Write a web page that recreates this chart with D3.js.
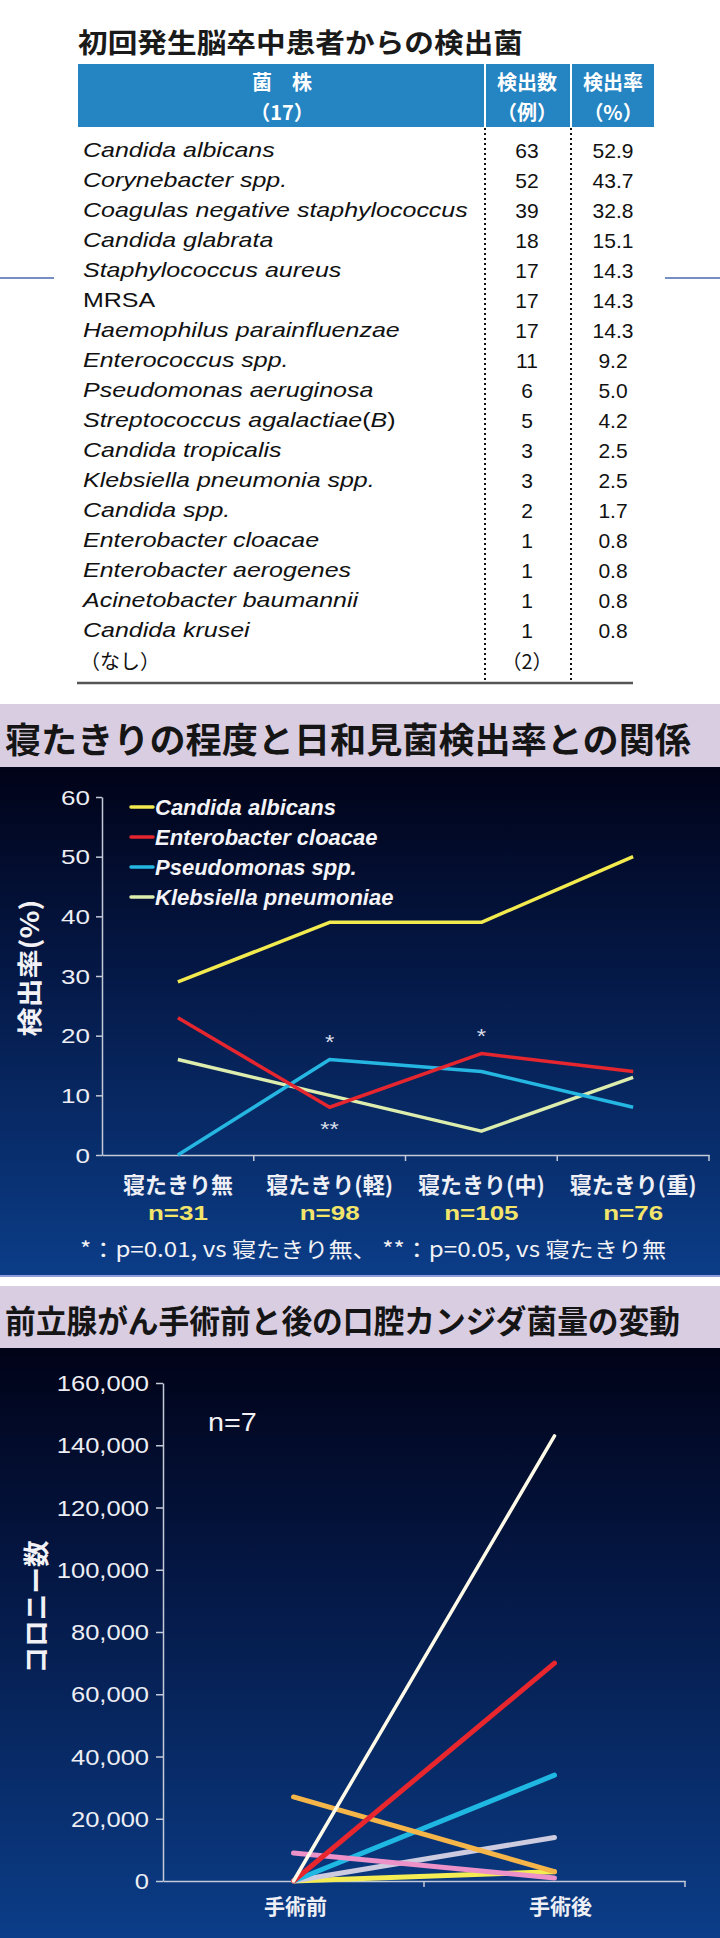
<!DOCTYPE html>
<html>
<head>
<meta charset="utf-8">
<script src="https://cdn.jsdelivr.net/npm/d3@7"></script>
<style>
  html, body { margin: 0; padding: 0; background: #fff; }
  svg { display: block; }
</style>
</head>
<body>
<div id="app"></div>
<script>
// ---- データ ----
const tableTitle = "初回発生脳卒中患者からの検出菌";
const strains = [
  "Candida albicans", "Corynebacter spp.", "Coagulas negative staphylococcus",
  "Candida glabrata", "Staphylococcus aureus", "MRSA", "Haemophilus parainfluenzae",
  "Enterococcus spp.", "Pseudomonas aeruginosa", "Streptococcus agalactiae", "Candida tropicalis",
  "Klebsiella pneumonia spp.", "Candida spp.", "Enterobacter cloacae",
  "Enterobacter aerogenes", "Acinetobacter baumannii", "Candida krusei"
];
const counts = [63, 52, 39, 18, 17, 17, 17, 11, 6, 5, 3, 3, 2, 1, 1, 1, 1];
const rates = [52.9, 43.7, 32.8, 15.1, 14.3, 14.3, 14.3, 9.2, 5.0, 4.2, 2.5, 2.5, 1.7, 0.8, 0.8, 0.8, 0.8];
const noneLabel = "（なし）";
const noneCount = "（2）";

const chart2Title = "寝たきりの程度と日和見菌検出率との関係";
const levels = ["寝たきり無", "寝たきり(軽)", "寝たきり(中)", "寝たきり(重)"];
const levelN = ["n=31", "n=98", "n=105", "n=76"];
const seriesNames = ["Candida albicans", "Enterobacter cloacae", "Pseudomonas spp.", "Klebsiella pneumoniae"];
const candidaRate = [29, 39, 39, 50];
const enterobacterRate = [23, 8, 17, 14];
const pseudomonasRate = [0, 16, 14, 8];
const klebsiellaRate = [16, 10, 4, 13];
const seriesColors = ["#f2ea4e", "#e5262f", "#25b6e2", "#dcedae"];
const rateTicks = [0, 10, 20, 30, 40, 50, 60];
const marks = [ // 有意差マーク
  { level: "寝たきり(軽)", value: 16, text: "*", above: true },
  { level: "寝たきり(軽)", value: 8, text: "**", above: false },
  { level: "寝たきり(中)", value: 17, text: "*", above: true }
];
const footnote = "*：p=0.01, vs 寝たきり無、 **：p=0.05, vs 寝たきり無";

const chart3Title = "前立腺がん手術前と後の口腔カンジダ菌量の変動";
const phases = ["手術前", "手術後"];
const colonyBefore = [0, 0, 0, 27000, 9000, 0, 0];
const colonyAfter = [3000, 14000, 34000, 3000, 1000, 70000, 143000];
const colonyColors = ["#f3ec52", "#cdcbe0", "#1fb8e2", "#f5b548", "#ec92c8", "#e8262e", "#fffbe8"];
const colonyTicks = [0, 20000, 40000, 60000, 80000, 100000, 120000, 140000, 160000];

// ---- 描画 ----
const W = 720, H = 1938;
const CJK = "'Noto Sans CJK JP', sans-serif";
const LAT = "'Liberation Sans', Arial, sans-serif";

const svg = d3.select("#app").append("svg").attr("width", W).attr("height", H);
const defs = svg.append("defs");

// 横に伸ばしたテキスト
function label(g, x, y, s, o = {}) {
  return g.append("text")
    .attr("transform", `translate(${x},${y}) scale(${o.sx || 1},1)`)
    .attr("dominant-baseline", "central")
    .attr("text-anchor", o.anchor || "start")
    .style("font-family", o.font || LAT)
    .style("font-size", (o.size || 20) + "px")
    .style("font-weight", o.weight || "normal")
    .style("font-style", o.italic ? "italic" : "normal")
    .style("fill", o.fill || "#111")
    .text(s);
}

// ========== 表 ==========
const t = svg.append("g");
t.append("text")
  .attr("x", 78).attr("y", 41)
  .attr("dominant-baseline", "central")
  .attr("textLength", 445).attr("lengthAdjust", "spacingAndGlyphs")
  .style("font-family", CJK).style("font-size", "27px").style("font-weight", 600)
  .style("fill", "#1a1a1a")
  .text(tableTitle);

// 両端の飾り線
t.append("line").attr("x1", 0).attr("x2", 54).attr("y1", 278).attr("y2", 278)
  .attr("stroke", "#4a68b0").attr("stroke-width", 1.5);
t.append("line").attr("x1", 665).attr("x2", 720).attr("y1", 278).attr("y2", 278)
  .attr("stroke", "#4a68b0").attr("stroke-width", 1.5);

const colName = 83, colDiv1 = 485, colDiv2 = 571, colCount = 527, colRate = 613;

// ヘッダー
t.append("rect").attr("x", 78).attr("y", 64).attr("width", 576).attr("height", 63)
  .attr("fill", "#2584c2");
[colDiv1, colDiv2].forEach(x => {
  t.append("line").attr("x1", x).attr("x2", x).attr("y1", 64).attr("y2", 127)
    .attr("stroke", "#fff").attr("stroke-width", 2);
});
const head = [
  { x: 282, a: "菌　株", b: "（17）" },
  { x: colCount, a: "検出数", b: "（例）" },
  { x: colRate, a: "検出率", b: "（%）" }
];
head.forEach(h => {
  label(t, h.x, 81, h.a, { anchor: "middle", font: CJK, size: 20, weight: "bold", fill: "#fff" });
  label(t, h.x, 111, h.b, { anchor: "middle", font: CJK, size: 20, weight: "bold", fill: "#fff" });
});

// 行
const rowY = d3.scalePoint().domain(d3.range(strains.length + 1)).range([150, 660]);

strains.forEach((name, i) => {
  const y = rowY(i);
  const txt = t.append("text")
    .attr("transform", `translate(${colName},${y}) scale(1.19,1)`)
    .attr("dominant-baseline", "central")
    .style("font-family", LAT).style("font-size", "21px").style("fill", "#111")
    .style("font-style", name === "MRSA" ? "normal" : "italic");
  txt.append("tspan").text(name);
  if (name === "Streptococcus agalactiae") {
    txt.append("tspan").style("font-style", "normal").text("(");
    txt.append("tspan").style("font-style", "italic").text("B");
    txt.append("tspan").style("font-style", "normal").text(")");
  }
  label(t, colCount, y, counts[i], { anchor: "middle", size: 21 });
  label(t, colRate, y, rates[i].toFixed(1), { anchor: "middle", size: 21 });
});
const last = rowY(strains.length);
label(t, 80, last, noneLabel, { font: CJK, size: 20 });
label(t, colCount, last, noneCount, { anchor: "middle", font: CJK, size: 20 });

// 点線と下線
[colDiv1, colDiv2].forEach(x => {
  t.append("line").attr("x1", x).attr("x2", x).attr("y1", 128).attr("y2", 683)
    .attr("stroke", "#111").attr("stroke-width", 2).attr("stroke-dasharray", "2,3");
});
t.append("line").attr("x1", 77).attr("x2", 633).attr("y1", 683).attr("y2", 683)
  .attr("stroke", "#555").attr("stroke-width", 2.5);

// ========== パネル共通 ==========
function panel(id, top, bandH, bottom, title, titleLen, titleSize) {
  const grad = defs.append("linearGradient").attr("id", id)
    .attr("x1", 0).attr("y1", 0).attr("x2", 0).attr("y2", 1);
  grad.append("stop").attr("offset", "0%").attr("stop-color", "#010318");
  grad.append("stop").attr("offset", "35%").attr("stop-color", "#041540");
  grad.append("stop").attr("offset", "100%").attr("stop-color", "#0b3d88");
  svg.append("rect").attr("x", 0).attr("y", top).attr("width", W).attr("height", bandH)
    .attr("fill", "#d9cde2");
  svg.append("text")
    .attr("x", 5).attr("y", top + bandH / 2 + 2)
    .attr("dominant-baseline", "central")
    .attr("textLength", titleLen).attr("lengthAdjust", "spacingAndGlyphs")
    .style("font-family", CJK).style("font-size", titleSize + "px").style("font-weight", "bold")
    .style("fill", "#151515")
    .text(title);
  svg.append("rect").attr("x", 0).attr("y", top + bandH).attr("width", W)
    .attr("height", bottom - top - bandH).attr("fill", `url(#${id})`);
  return svg.append("g");
}

// ========== グラフ2 ==========
const g2 = panel("bg2", 704, 63, 1276, chart2Title, 686, 35);
svg.append("line").attr("x1", 0).attr("x2", W).attr("y1", 1276).attr("y2", 1276)
  .attr("stroke", "#8d9bd8").attr("stroke-width", 2);

const x2 = d3.scaleBand().domain(levels).range([102, 709]);
const y2 = d3.scaleLinear().domain([0, 60]).range([1155, 797]);
const cx2 = d => x2(d) + x2.bandwidth() / 2;

const yAx2 = g2.append("g").attr("transform", "translate(102,0)")
  .call(d3.axisLeft(y2).tickValues(rateTicks).tickSize(6).tickSizeOuter(0).tickPadding(6));
yAx2.select(".domain").attr("stroke", "#c4cad8").attr("stroke-width", 1.5);
yAx2.selectAll(".tick line").attr("stroke", "#c4cad8").attr("stroke-width", 1.5);
yAx2.selectAll("text")
  .attr("x", -12 / 1.3).attr("dy", "0.35em").attr("transform", "scale(1.3,1)")
  .style("font-family", LAT).style("font-size", "20px").style("fill", "#eceef4");

const xAx2 = g2.append("g").attr("transform", "translate(0,1155)")
  .call(d3.axisBottom(x2).tickSize(0).tickFormat(""));
xAx2.select(".domain").attr("stroke", "#c4cad8").attr("stroke-width", 1.5);
levels.forEach(l => {
  const bx = x2(l) + x2.bandwidth();
  g2.append("line").attr("x1", bx).attr("x2", bx).attr("y1", 1155).attr("y2", 1161)
    .attr("stroke", "#c4cad8").attr("stroke-width", 1.5);
});
levels.forEach((l, i) => {
  label(g2, cx2(l), 1183, l, { anchor: "middle", font: CJK, size: 22, weight: "bold", fill: "#eef0f6" });
  label(g2, cx2(l), 1213, levelN[i], { anchor: "middle", size: 20, weight: "bold", fill: "#f2e56a", sx: 1.3 });
});

// 軸タイトル
g2.append("text")
  .attr("transform", "translate(28,968) rotate(-90)")
  .attr("text-anchor", "middle").attr("dominant-baseline", "central")
  .attr("textLength", 137).attr("lengthAdjust", "spacingAndGlyphs")
  .style("font-family", CJK).style("font-size", "25px").style("font-weight", "bold")
  .style("fill", "#f2f2f6")
  .text("検出率(%)");

// 折れ線
const rateSeries = [candidaRate, enterobacterRate, pseudomonasRate, klebsiellaRate];
const line2 = d3.line().x((d, i) => cx2(levels[i])).y(d => y2(d));
[3, 2, 1, 0].forEach(k => {
  g2.append("path").datum(rateSeries[k]).attr("d", line2)
    .attr("fill", "none").attr("stroke", seriesColors[k]).attr("stroke-width", 3.5)
    .attr("stroke-linejoin", "round");
});

// 凡例
const legY = d3.scalePoint().domain(seriesNames).range([807, 897]);
seriesNames.forEach((n, k) => {
  g2.append("line").attr("x1", 131).attr("x2", 153).attr("y1", legY(n)).attr("y2", legY(n))
    .attr("stroke", seriesColors[k]).attr("stroke-width", 3.5).attr("stroke-linecap", "round");
  label(g2, 155, legY(n), n, { size: 22, weight: "bold", italic: true, fill: "#f4f4f8" });
});

// 有意差
marks.forEach(m => {
  label(g2, cx2(m.level), y2(m.value) + (m.above ? -17 : 22), m.text,
    { anchor: "middle", size: 20, fill: "#d8dce6", sx: 1.2 });
});

g2.append("text")
  .attr("x", 80).attr("y", 1248).attr("dominant-baseline", "central")
  .attr("textLength", 586).attr("lengthAdjust", "spacingAndGlyphs")
  .style("font-family", CJK).style("font-size", "21px").style("fill", "#f2f2f6")
  .text(footnote);

// ========== グラフ3 ==========
const g3 = panel("bg3", 1286, 62, H, chart3Title, 675, 32);

const x3 = d3.scaleBand().domain(phases).range([163, 685]);
const y3 = d3.scaleLinear().domain([0, 160000]).range([1881, 1383]);
const cx3 = d => x3(d) + x3.bandwidth() / 2;

const yAx3 = g3.append("g").attr("transform", "translate(163,0)")
  .call(d3.axisLeft(y3).tickValues(colonyTicks).tickFormat(d3.format(",")).tickSize(7).tickSizeOuter(0));
yAx3.select(".domain").attr("stroke", "#c4cad8").attr("stroke-width", 1.5);
yAx3.selectAll(".tick line").attr("stroke", "#c4cad8").attr("stroke-width", 1.5);
yAx3.selectAll("text")
  .attr("x", -14 / 1.16).attr("dy", "0.35em").attr("transform", "scale(1.16,1)")
  .style("font-family", LAT).style("font-size", "22px").style("fill", "#eceef4");

const xAx3 = g3.append("g").attr("transform", "translate(0,1881)")
  .call(d3.axisBottom(x3).tickSize(0).tickFormat(""));
xAx3.select(".domain").attr("stroke", "#c4cad8").attr("stroke-width", 1.5);
phases.forEach(p => {
  const bx = x3(p) + x3.bandwidth();
  g3.append("line").attr("x1", bx).attr("x2", bx).attr("y1", 1881).attr("y2", 1887)
    .attr("stroke", "#c4cad8").attr("stroke-width", 1.5);
  label(g3, cx3(p) + (p === "手術後" ? 6 : 2), 1905, p,
    { anchor: "middle", font: CJK, size: 21, weight: "bold", fill: "#eef0f6" });
});

g3.append("text")
  .attr("transform", "translate(34,1607) rotate(-90)")
  .attr("text-anchor", "middle").attr("dominant-baseline", "central")
  .attr("textLength", 133).attr("lengthAdjust", "spacingAndGlyphs")
  .style("font-family", CJK).style("font-size", "26px").style("font-weight", "bold")
  .style("fill", "#f2f2f6")
  .text("コロニー数");

label(g3, 208, 1423, "n=7", { size: 25, fill: "#f2f2f6", sx: 1.15 });

// 患者ごとの線
const line3 = d3.line().x((d, i) => cx3(phases[i])).y(d => y3(d));
colonyBefore.forEach((b, k) => {
  g3.append("path").datum([b, colonyAfter[k]]).attr("d", line3)
    .attr("fill", "none").attr("stroke", colonyColors[k])
    .attr("stroke-width", k === 6 ? 3.5 : 5).attr("stroke-linecap", "round");
});
</script>
</body>
</html>
